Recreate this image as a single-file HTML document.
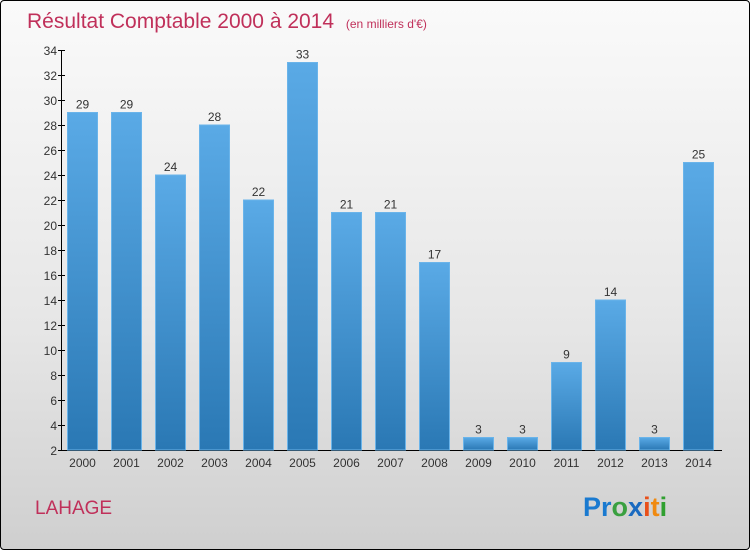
<!DOCTYPE html>
<html><head><meta charset="utf-8"><style>
body{margin:0}
#c{position:relative;width:748px;height:548px;border:1px solid #000;border-radius:4px;background:linear-gradient(#fafafa,#e6e6e6 60%,#cfcfcf);overflow:hidden;font-family:"Liberation Sans",sans-serif}
</style></head><body>
<div id="c">
<svg width="748" height="548">
<defs><linearGradient id="g" x1="0" y1="0" x2="0" y2="1"><stop offset="0" stop-color="#5aaae6"/><stop offset="1" stop-color="#2a78b4"/></linearGradient></defs>
<text x="26" y="27" font-size="21" fill="#c0305a">Résultat Comptable 2000 à 2014 <tspan font-size="12" dx="6">(en milliers d'€)</tspan></text>
<g id="plot"></g>
<text x="34" y="513" font-size="19" fill="#c0305a">LAHAGE</text>
<text x="582" y="515" font-size="27" font-weight="bold"><tspan fill="#1a7ad0">Pr</tspan><tspan fill="#3aa040">o</tspan><tspan fill="#1a6ac0">x</tspan><tspan fill="#e8501a">i</tspan><tspan fill="#f08a10">t</tspan><tspan fill="#30a030">i</tspan></text>
</svg></div>
<script>
const categories=["2000","2001","2002","2003","2004","2005","2006","2007","2008","2009","2010","2011","2012","2013","2014"];
const values=[29,29,24,28,22,33,21,21,17,3,3,9,14,3,25];
const ticks=[2,4,6,8,10,12,14,16,18,20,22,24,26,28,30,32,34];
const NS="http://www.w3.org/2000/svg";
const g=document.getElementById("plot");
const y=v=>449-(v-2)*12.5;
const x=i=>81+i*44;
function mk(t,a,txt){const e=document.createElementNS(NS,t);for(const k in a)e.setAttribute(k,a[k]);if(txt!==undefined)e.textContent=txt;g.appendChild(e);return e;}
let e=mk("line",{x1:60.5,y1:y(34),x2:60.5,y2:449.5,stroke:"#000"});


e=mk("line",{x1:60,y1:449.5,x2:721,y2:449.5,stroke:"#000"});


ticks.forEach(t=>{
 mk("line",{x1:57,x2:64,y1:y(t)+0.5,y2:y(t)+0.5,stroke:"#000"});
 e=mk("text",{x:56,y:y(t)+5,"font-size":12,fill:"#333","text-anchor":"end"},t);
 
 
});
values.forEach((v,i)=>{
 e=mk("rect",{x:x(i)-14.5,y:y(v),width:30,height:449-y(v),fill:"url(#g)",stroke:"#6ab4ea","stroke-width":1});
 
 
 e=mk("text",{x:x(i)+0.5,y:y(v)-4,"font-size":12,fill:"#333","text-anchor":"middle"},v);
 
 
 e=mk("text",{x:x(i)+0.5,y:466,"font-size":12,fill:"#333","text-anchor":"middle"},categories[i]);
 
 
});
</script>
</body></html>
